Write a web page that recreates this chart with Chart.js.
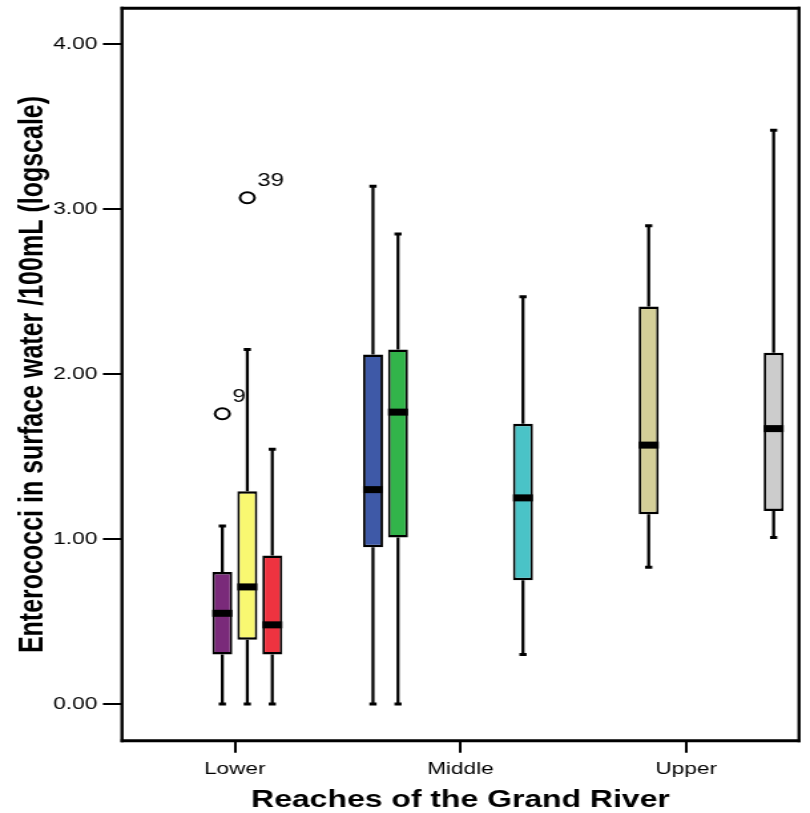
<!DOCTYPE html>
<html><head><meta charset="utf-8">
<script src="https://cdn.jsdelivr.net/npm/chart.js@4.4.0/dist/chart.umd.min.js"></script>
<style>
html,body{margin:0;padding:0;background:#fff;overflow:hidden;}
#wrap{position:absolute;left:0;top:0;width:609px;height:813px;transform:scaleX(1.33);transform-origin:0 0;}
</style></head><body>
<div id="wrap"><canvas id="c"></canvas></div>
<script>
// ---- data ----
const reaches = ['Lower', 'Middle', 'Upper'];
const seriesReach = [1, 1, 2, 0, 0, 0, 1, 2];
const seriesColors = ['#3e59a7', '#32b44a', '#d4cf98', '#7a2a7a', '#f9f871', '#ee3340', '#4ac3c7', '#cccccc'];
const whiskerLow  = [0.00, 0.00, 0.83, 0.00, 0.00, 0.00, 0.30, 1.01];
const quart1      = [0.95, 1.01, 1.15, 0.30, 0.39, 0.30, 0.75, 1.17];
const medians     = [1.30, 1.77, 1.57, 0.55, 0.71, 0.48, 1.25, 1.67];
const quart3      = [2.12, 2.15, 2.41, 0.80, 1.29, 0.90, 1.70, 2.13];
const whiskerHigh = [3.14, 2.85, 2.90, 1.08, 2.15, 1.545, 2.47, 3.48];
const outlierSeries = [3, 4];
const outlierValues = [1.76, 3.07];
const outlierLabels = ['9', '39'];
const yTicks = [0, 1, 2, 3, 4];
const yTitle = 'Enterococci in surface water /100mL (logscale)';
const xTitle = 'Reaches of the Grand River';

const FONT = 'Liberation Sans, Arial, Helvetica, sans-serif';

const datasets = seriesReach.map((r, i) => ({
  data: reaches.map((_, k) => k === r ? [quart1[i], quart3[i]] : null),
  backgroundColor: seriesColors[i],
  borderColor: '#000',
  borderWidth: {top: 2.5, bottom: 2.5, left: 1.9, right: 1.9},
  borderSkipped: false,
  categoryPercentage: 0.886,
  barPercentage: 0.8
}));

const boxPlugin = {
  id: 'boxParts',
  beforeDatasetsDraw(chart) {
    const ctx = chart.ctx, y = chart.scales.y;
    ctx.save();
    ctx.strokeStyle = '#000';
    seriesReach.forEach((r, i) => {
      const bar = chart.getDatasetMeta(i).data[r];
      const x = bar.x;
      ctx.lineWidth = 2.25;
      ctx.beginPath();
      ctx.moveTo(x, y.getPixelForValue(whiskerHigh[i]));
      ctx.lineTo(x, y.getPixelForValue(quart3[i]));
      ctx.moveTo(x, y.getPixelForValue(quart1[i]));
      ctx.lineTo(x, y.getPixelForValue(whiskerLow[i]));
      ctx.stroke();
      ctx.lineWidth = 3;
      ctx.beginPath();
      [whiskerHigh[i], whiskerLow[i]].forEach(v => {
        const py = y.getPixelForValue(v);
        ctx.moveTo(x - 2.7, py); ctx.lineTo(x + 2.7, py);
      });
      ctx.stroke();
    });
    ctx.restore();
  },
  afterDatasetsDraw(chart) {
    const ctx = chart.ctx, y = chart.scales.y, a = chart.chartArea;
    ctx.save();
    ctx.fillStyle = '#000';
    seriesReach.forEach((r, i) => {
      const bar = chart.getDatasetMeta(i).data[r];
      const py = y.getPixelForValue(medians[i]);
      ctx.fillRect(bar.x - bar.width / 2, py - 3.5, bar.width, 7);
    });
    outlierSeries.forEach((s, j) => {
      const bar = chart.getDatasetMeta(s).data[seriesReach[s]];
      const py = y.getPixelForValue(outlierValues[j]);
      ctx.strokeStyle = '#000';
      ctx.lineWidth = 2;
      ctx.beginPath();
      ctx.arc(bar.x, py, 5.5, 0, Math.PI * 2);
      ctx.stroke();
      ctx.font = '18px ' + FONT;
      ctx.textAlign = 'left';
      ctx.textBaseline = 'middle';
      ctx.fillText(outlierLabels[j], bar.x + 7.5, py - 17);
    });
    // frame
    ctx.strokeStyle = '#000';
    ctx.lineWidth = 3;
    ctx.beginPath();
    ctx.moveTo(a.left - 1, a.top); ctx.lineTo(a.right + 1, a.top);
    ctx.moveTo(a.left - 1, a.bottom); ctx.lineTo(a.right + 1, a.bottom);
    ctx.stroke();
    ctx.lineWidth = 2.4;
    ctx.beginPath();
    ctx.moveTo(a.left, a.top - 1.5); ctx.lineTo(a.left, a.bottom + 1.5);
    ctx.moveTo(a.right, a.top - 1.5); ctx.lineTo(a.right, a.bottom + 1.5);
    ctx.stroke();
    ctx.restore();
  }
};

new Chart(document.getElementById('c'), {
  type: 'bar',
  data: { labels: reaches, datasets },
  options: {
    responsive: true,
    maintainAspectRatio: false,
    animation: false,
    layout: { padding: { left: 0, right: 8.25, top: 8.3, bottom: 0 } },
    plugins: { legend: { display: false }, tooltip: { enabled: false } },
    scales: {
      x: {
        type: 'category',
        offset: true,
        grid: { offset: false, drawOnChartArea: false, drawTicks: true, tickLength: 12, color: '#000', lineWidth: 2 },
        border: { display: false },
        ticks: { color: '#000', font: { family: FONT, size: 17 }, padding: 6, maxRotation: 0 },
        title: { display: true, text: xTitle, color: '#000', font: { family: FONT, size: 24, weight: 'bold', lineHeight: 1 }, padding: { top: 0, bottom: 1 } },
        afterFit(s) { s.height = 72.3; s.paddingLeft = 0; s.paddingRight = 0; }
      },
      y: {
        type: 'linear',
        min: -0.2226,
        max: 4.219,
        grid: { drawOnChartArea: false, drawTicks: true, tickLength: 14.3, color: '#000', lineWidth: 2 },
        border: { display: false },
        afterBuildTicks(s) { s.ticks = yTicks.map(v => ({ value: v })); },
        ticks: { color: '#000', font: { family: FONT, size: 17 }, padding: 4.2, callback: v => Number(v).toFixed(2) },
        title: { display: true, text: yTitle, color: '#000', font: { family: FONT, size: 25, weight: 'bold', lineHeight: 1 }, padding: { top: 12.3, bottom: 0 } },
        afterFit(s) { s.width = 91.7; s.paddingTop = 0; s.paddingBottom = 0; }
      }
    }
  },
  plugins: [boxPlugin]
});
</script>
</body></html>
